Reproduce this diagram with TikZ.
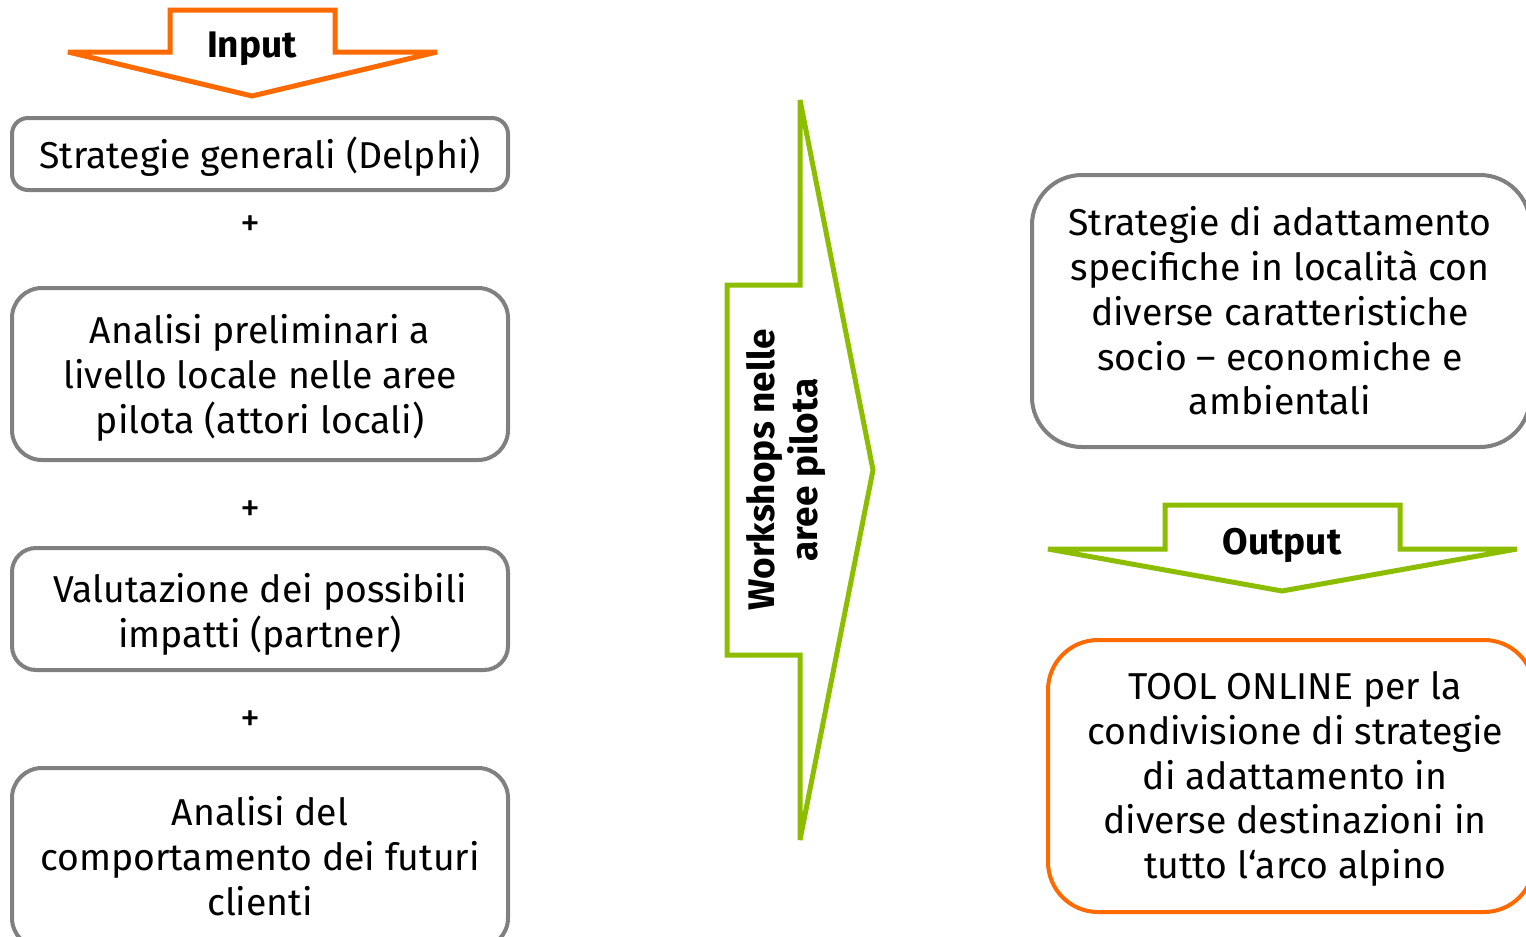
\documentclass[tikz,border=0pt]{standalone}
\usepackage{fontspec}
\setmainfont{Fira Sans}
\definecolor{orng}{HTML}{FF6A00}
\definecolor{grn}{HTML}{8CBD00}
\definecolor{gry}{HTML}{808080}
\begin{document}
\begin{tikzpicture}[x=0.5pt,y=-0.5pt,
  box/.style={draw=gry,line width=2pt,rounded corners=#1,fill=white,inner sep=0pt,align=center},
  box/.default=8pt,
  txt/.style={align=center,font=\fontsize{18.7}{22.4}\selectfont},
  lbl/.style={font=\fontsize{18.5}{21.5}\selectfont\bfseries,align=center},
  plus/.style={font=\fontsize{20}{22}\selectfont,inner sep=0pt},
  oarrow/.style={draw=orng,line width=2.5pt,line join=miter,miter limit=3,fill=white},
  garrow/.style={draw=grn,line width=2.5pt,line join=miter,miter limit=3,fill=white}]
\useasboundingbox (0,0) rectangle (1526,937);
\clip (0,0) rectangle (1526,937);
% Input arrow
\draw[oarrow] (170,10) -- (335,10) -- (335,52) -- (437,52) -- (252,96) -- (68,52) -- (170,52) -- cycle;
\node[lbl] (input) at (252,49) {Input};
% left boxes
\node[box=8pt,minimum width=248pt,minimum height=36pt] (b1) at (260,154) {};
\node[txt] (t1) at (260,157) {Strategie generali (Delphi)};
\node[plus] (p1) at (250,226) {+};
\node[box=15pt,minimum width=248pt,minimum height=86pt] (b2) at (260,374) {};
\node[txt] (t2) at (260,378) {Analisi preliminari a\\livello locale nelle aree\\pilota (attori locali)};
\node[plus] (p2) at (250,511) {+};
\node[box=12pt,minimum width=248pt,minimum height=61pt] (b3) at (260,609) {};
\node[txt] (t3) at (260,614) {Valutazione dei possibili\\impatti (partner)};
\node[plus] (p3) at (250,721) {+};
\node[box=15pt,minimum width=248pt,minimum height=90pt] (b4) at (260,858) {};
\node[txt] (t4) at (260,856) {Analisi del\\comportamento dei futuri\\clienti};
% Workshops arrow
\draw[garrow] (727,285) -- (800,285) -- (800,100) -- (873,470) -- (800,840) -- (800,655) -- (727,655) -- cycle;
\node[lbl,rotate=90] (ws) at (786,470) {Workshops nelle\\aree pilota};
% right top box
\node[box=25pt,minimum width=249pt,minimum height=136pt] (r1) at (1281,311) {};
\node[txt] (rt1) at (1280,311) {Strategie di adattamento\\specifiche in località con\\diverse caratteristiche\\socio – economiche e\\ambientali};
% Output arrow
\draw[garrow] (1165,505) -- (1400,505) -- (1400,549) -- (1517,549) -- (1282,591) -- (1048,549) -- (1165,549) -- cycle;
\node[lbl] (output) at (1282,545) {Output};
% orange box
\node[box=25pt,draw=orng,minimum width=243pt,minimum height=136pt] (r2) at (1291,776) {};
\node[txt] (rt2) at (1295,779) {TOOL ONLINE per la\\condivisione di strategie\\di adattamento in\\diverse destinazioni in\\tutto l‘arco alpino};
\end{tikzpicture}
\end{document}
